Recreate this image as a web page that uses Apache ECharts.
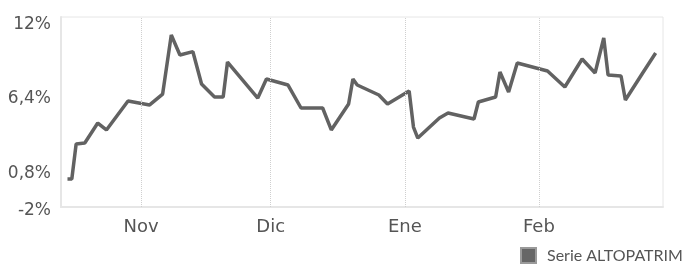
<!DOCTYPE html>
<html>
<head>
<meta charset="utf-8">
<script src="https://cdn.jsdelivr.net/npm/echarts@6/dist/echarts.min.js"></script>
<style>html,body{margin:0;padding:0;background:#fff}#c{width:684px;height:265px}</style>
</head>
<body>
<div id="c"></div>
<script>
var dates = ['2023-10-15','2023-10-16','2023-10-17','2023-10-19','2023-10-22','2023-10-24','2023-10-29',
  '2023-11-03','2023-11-06','2023-11-08','2023-11-10','2023-11-13','2023-11-15','2023-11-18','2023-11-20',
  '2023-11-21','2023-11-28','2023-11-30','2023-12-05','2023-12-08','2023-12-13','2023-12-15','2023-12-19',
  '2023-12-20','2023-12-21','2023-12-26','2023-12-28','2024-01-02','2024-01-03','2024-01-04','2024-01-09',
  '2024-01-11','2024-01-17','2024-01-18','2024-01-22','2024-01-23','2024-01-25','2024-01-27','2024-02-03',
  '2024-02-07','2024-02-11','2024-02-14','2024-02-16','2024-02-17','2024-02-20','2024-02-21','2024-02-25',
  '2024-02-28'];
var values = [0.11,0.11,2.74,2.82,4.32,3.80,5.98,
  5.68,6.50,10.95,9.44,9.69,7.26,6.28,6.28,
  8.91,6.20,7.63,7.18,5.45,5.45,3.80,5.75,
  7.63,7.18,6.43,5.75,6.73,4.02,3.19,4.70,
  5.07,4.62,5.90,6.28,8.16,6.66,8.84,8.24,
  7.03,9.14,8.09,10.72,7.93,7.86,6.05,8.09,
  9.59];
var monthTicks = ['2023-11-01','2023-12-01','2024-01-01','2024-02-01'];
var monthLabels = ['Nov','Dic','Ene','Feb'];
var yTicks = [-2, 0.8, 6.4, 12];
var seriesName = 'Serie ALTOPATRIM';

var DAY = 86400000;
function ts(s){ var p = s.split('-'); return Date.UTC(+p[0], +p[1]-1, +p[2]); }
var base = ts(monthTicks[0]);
function dayNum(s){ return Math.round((ts(s) - base) / DAY); }
var tickDays = monthTicks.map(dayNum);

var chart = echarts.init(document.getElementById('c'));
chart.setOption({
  animation: false,
  grid: {left: 61, top: 17, right: 21, bottom: 58, show: true, borderColor: '#e6e6e6', borderWidth: 1},
  legend: {
    data: [seriesName], left: 520, top: 247, padding: 0, icon: 'rect', itemWidth: 15, itemHeight: 15,
    itemStyle: {color: '#666', borderColor: '#9a9a9a', borderWidth: 2},
    textStyle: {fontFamily: 'Lato', fontSize: 16, color: '#555', padding: [2,0,0,6]}
  },
  xAxis: {
    type: 'value',
    min: -18.5,
    max: 120.7,
    axisLine: {show: true, onZero: false, lineStyle: {color: '#e6e6e6', width: 2}},
    axisTick: {show: false},
    splitLine: {show: false},
    axisLabel: {
      customValues: tickDays,
      margin: 11,
      fontFamily: 'DejaVu Sans', fontSize: 18, color: '#555',
      formatter: function (v) { var i = tickDays.indexOf(Math.round(v)); return i >= 0 ? monthLabels[i] : ''; }
    }
  },
  yAxis: {
    type: 'value', min: -2, max: 12.3,
    axisLine: {show: true, onZero: false, lineStyle: {color: '#e6e6e6', width: 2}},
    axisTick: {show: false},
    splitLine: {show: false},
    axisLabel: {
      customValues: yTicks,
      margin: 10, verticalAlign: 'top', lineHeight: 7,
      fontFamily: 'DejaVu Sans', fontSize: 17, color: '#555',
      formatter: function (v) { return String(v).replace('.', ',') + '%'; }
    }
  },
  series: [{
    name: seriesName, type: 'line', showSymbol: false,
    lineStyle: {color: '#626262', width: 3.5},
    itemStyle: {color: '#666'},
    data: dates.map(function (d, i) { return [dayNum(d), values[i]]; }),
    markLine: {
      silent: true, symbol: 'none', label: {show: false},
      lineStyle: {color: '#cfcfcf', type: 'dotted', width: 1},
      data: tickDays.map(function (d) { return {xAxis: d}; })
    }
  }]
});
</script>
</body>
</html>
